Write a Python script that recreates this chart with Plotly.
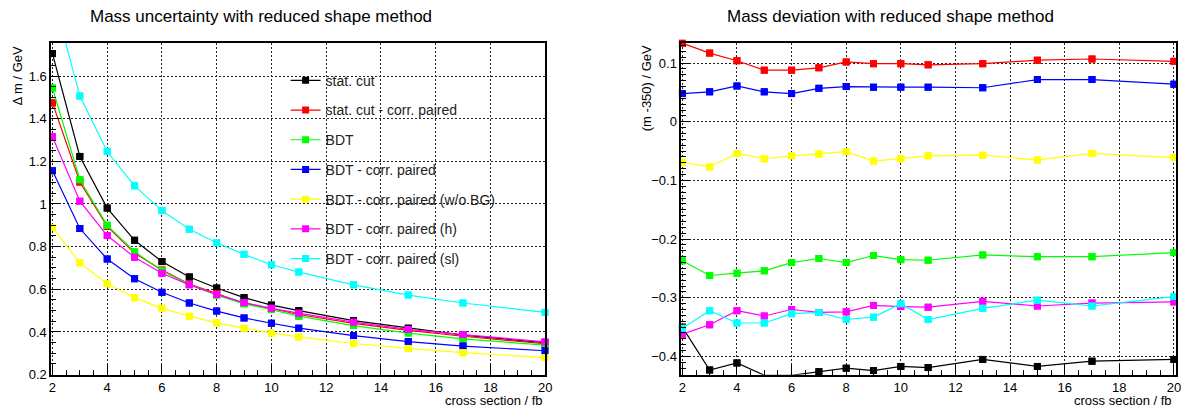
import plotly.graph_objects as go

# cross sections in fb
xsec = [2, 3, 4, 5, 6, 7, 8, 9, 10, 11, 13, 15, 17, 20]

series_names = [
    "stat. cut",
    "stat. cut - corr. paired",
    "BDT",
    "BDT - corr. paired",
    "BDT - corr. paired (w/o BG)",
    "BDT - corr. paired (h)",
    "BDT - corr. paired (sl)",
]
series_colors = ["#000000", "#ff0000", "#00ff00", "#0000ff", "#ffff00", "#ff00ff", "#00ffff"]

# mass uncertainty (GeV)
unc_stat_cut = [1.705, 1.223, 0.981, 0.830, 0.730, 0.658, 0.606, 0.561, 0.526, 0.500, 0.453, 0.418, 0.385, 0.350]
unc_stat_cut_paired = [1.474, 1.103, 0.895, 0.770, 0.690, 0.625, 0.580, 0.535, 0.510, 0.482, 0.440, 0.408, 0.380, 0.345]
unc_bdt = [1.544, 1.114, 0.900, 0.776, 0.687, 0.623, 0.573, 0.532, 0.505, 0.474, 0.430, 0.395, 0.368, 0.338]
unc_bdt_paired = [1.156, 0.885, 0.742, 0.650, 0.586, 0.536, 0.498, 0.466, 0.441, 0.418, 0.383, 0.355, 0.334, 0.312]
unc_bdt_paired_nobg = [0.890, 0.724, 0.626, 0.561, 0.511, 0.474, 0.443, 0.418, 0.395, 0.377, 0.346, 0.323, 0.303, 0.280]
unc_bdt_paired_h = [1.315, 1.013, 0.852, 0.750, 0.675, 0.621, 0.576, 0.538, 0.511, 0.488, 0.446, 0.412, 0.388, 0.354]
unc_bdt_paired_sl = [1.99, 1.506, 1.246, 1.085, 0.969, 0.882, 0.818, 0.764, 0.715, 0.681, 0.621, 0.573, 0.536, 0.492]

# mass deviation m - 350 (GeV)
dev_stat_cut = [-0.350, -0.423, -0.411, -0.432, -0.432, -0.426, -0.420, -0.424, -0.417, -0.419, -0.405, -0.417, -0.408, -0.405]
dev_stat_cut_paired = [0.134, 0.117, 0.104, 0.088, 0.088, 0.092, 0.102, 0.099, 0.099, 0.097, 0.099, 0.105, 0.107, 0.103]
dev_bdt = [-0.237, -0.262, -0.258, -0.254, -0.240, -0.233, -0.240, -0.228, -0.235, -0.236, -0.227, -0.230, -0.230, -0.223]
dev_bdt_paired = [0.048, 0.051, 0.061, 0.051, 0.048, 0.057, 0.060, 0.059, 0.059, 0.059, 0.058, 0.072, 0.072, 0.064]
dev_bdt_paired_nobg = [-0.069, -0.077, -0.054, -0.063, -0.058, -0.055, -0.051, -0.067, -0.063, -0.058, -0.057, -0.065, -0.054, -0.061]
dev_bdt_paired_h = [-0.362, -0.346, -0.322, -0.331, -0.320, -0.325, -0.324, -0.313, -0.315, -0.316, -0.306, -0.314, -0.309, -0.307]
dev_bdt_paired_sl = [-0.352, -0.322, -0.343, -0.343, -0.327, -0.325, -0.337, -0.333, -0.310, -0.337, -0.318, -0.304, -0.314, -0.298]

unc_series = [unc_stat_cut, unc_stat_cut_paired, unc_bdt, unc_bdt_paired,
              unc_bdt_paired_nobg, unc_bdt_paired_h, unc_bdt_paired_sl]
dev_series = [dev_stat_cut, dev_stat_cut_paired, dev_bdt, dev_bdt_paired,
              dev_bdt_paired_nobg, dev_bdt_paired_h, dev_bdt_paired_sl]

FONT = "Liberation Sans, Arial, Helvetica, sans-serif"
W, H = 1190, 416

fig = go.Figure()

def add_series(xa, ya, values, name, color, legend):
    # connecting line (clipped to the frame) carrying the legend entry
    fig.add_trace(go.Scatter(
        x=xsec, y=values, name=name, xaxis=xa, yaxis=ya,
        mode="lines+markers", line=dict(color=color, width=1.2),
        marker=dict(symbol="square", size=7, color=color),
        showlegend=legend, legendgroup=name, cliponaxis=True,
    ))
    # markers may overhang the frame edge
    fig.add_trace(go.Scatter(
        x=xsec, y=values, xaxis=xa, yaxis=ya, mode="markers",
        marker=dict(symbol="square", size=7, color=color),
        showlegend=False, cliponaxis=False, hoverinfo="skip",
    ))

for name, color, vals in zip(series_names, series_colors, unc_series):
    add_series("x", "y", vals, name, color, True)
for name, color, vals in zip(series_names, series_colors, dev_series):
    add_series("x2", "y2", vals, name, color, False)

ydom = [34 / H, 372 / H]
common_axis = dict(
    showline=True, linecolor="black", linewidth=1.5, mirror=True,
    showgrid=True, gridcolor="#222222", griddash="2px,2px", gridwidth=1,
    zeroline=False, ticks="inside", ticklen=10, tickcolor="black",
    tickfont=dict(family=FONT, size=13, color="black"),
)

fig.update_layout(
    width=W, height=H,
    margin=dict(l=0, r=0, t=0, b=0),
    paper_bgcolor="white", plot_bgcolor="white",
    font=dict(family=FONT, size=13, color="black"),
    xaxis=dict(domain=[48.5 / W, 547 / W], range=[1.95, 20.01], dtick=2, tick0=2,
               minor=dict(dtick=0.5, ticks="inside", ticklen=5, tickcolor="black", showgrid=False),
               anchor="y", **common_axis),
    yaxis=dict(domain=ydom, range=[0.2, 1.754], dtick=0.2, tick0=0.2,
               minor=dict(dtick=0.05, ticks="inside", ticklen=5, tickcolor="black", showgrid=False),
               anchor="x", **common_axis),
    xaxis2=dict(domain=[684 / W, 1182.5 / W], range=[1.96, 20.06], dtick=2, tick0=2,
                minor=dict(dtick=0.5, ticks="inside", ticklen=5, tickcolor="black", showgrid=False),
                anchor="y2", **common_axis),
    yaxis2=dict(domain=ydom, range=[-0.431, 0.134], dtick=0.1, tick0=0,
                minor=dict(dtick=0.01, ticks="inside", ticklen=5, tickcolor="black", showgrid=False),
                anchor="x2", **common_axis),
    legend=dict(
        x=285 / W, y=1 - 66 / H, xanchor="left", yanchor="top",
        bgcolor="rgba(0,0,0,0)", borderwidth=0,
        font=dict(family=FONT, size=14, color="#222222"),
        traceorder="grouped", tracegroupgap=8.5,
    ),
    showlegend=True,
)

annotations = [
    dict(text="Mass uncertainty with reduced shape method", x=260 / W, y=1 - 17 / H,
         xref="paper", yref="paper", showarrow=False, xanchor="center", yanchor="middle",
         font=dict(family=FONT, size=17, color="black")),
    dict(text="Mass deviation with reduced shape method", x=895 / W, y=1 - 17 / H,
         xref="paper", yref="paper", showarrow=False, xanchor="center", yanchor="middle",
         font=dict(family=FONT, size=17, color="black")),
    dict(text="Δ m / GeV", x=14.5 / W, y=1 - 44 / H, textangle=-90,
         xref="paper", yref="paper", showarrow=False, xanchor="center", yanchor="top",
         font=dict(family=FONT, size=13, color="black")),
    dict(text="(m -350) / GeV", x=648.5 / W, y=1 - 44 / H, textangle=-90,
         xref="paper", yref="paper", showarrow=False, xanchor="center", yanchor="top",
         font=dict(family=FONT, size=13, color="black")),
    dict(text="cross section / fb", x=547 / W, y=1 - 399 / H,
         xref="paper", yref="paper", showarrow=False, xanchor="right", yanchor="top",
         font=dict(family=FONT, size=13, color="black")),
    dict(text="cross section / fb", x=1181 / W, y=1 - 399 / H,
         xref="paper", yref="paper", showarrow=False, xanchor="right", yanchor="top",
         font=dict(family=FONT, size=13, color="black")),
]
fig.update_layout(annotations=annotations)

fig.write_html("out.html")
